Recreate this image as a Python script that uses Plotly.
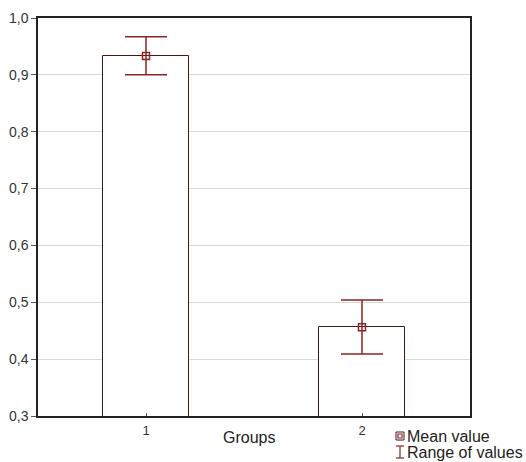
import plotly.graph_objects as go

# Data
groups = [1, 2]
group_labels = ["1", "2"]
mean_values = [0.933, 0.456]
max_values = [0.967, 0.504]
min_values = [0.900, 0.409]
y_ticks = [0.3, 0.4, 0.5, 0.6, 0.7, 0.8, 0.9, 1.0]

err_plus = [mx - m for mx, m in zip(max_values, mean_values)]
err_minus = [m - mn for mn, m in zip(min_values, mean_values)]

BAR_LINE = "#4a1515"
ERR = "#8b2525"
FONT = "Liberation Sans, Arial, sans-serif"

fig = go.Figure()
fig.add_trace(go.Bar(
    x=groups, y=mean_values, width=0.4,
    marker=dict(color="white", line=dict(color=BAR_LINE, width=1)),
    showlegend=False, hoverinfo="skip",
))
fig.add_trace(go.Scatter(
    x=groups, y=mean_values, mode="markers",
    marker=dict(symbol="square-open", size=7, color=ERR, line=dict(width=1.5, color=ERR)),
    error_y=dict(type="data", symmetric=False, array=err_plus, arrayminus=err_minus,
                 color=ERR, thickness=1.5, width=21),
    showlegend=False,
))

fig.update_layout(
    width=526, height=462,
    margin=dict(l=38, r=56, t=18, b=46),
    plot_bgcolor="white", paper_bgcolor="white",
    separators=",.",
    font=dict(family=FONT, size=13, color="#333333"),
    xaxis=dict(
        range=[0.5, 2.5], tickvals=groups, ticktext=group_labels,
        showgrid=False, zeroline=False, automargin=False,
        showline=True, linecolor="#222222", linewidth=1.5, mirror=True,
        ticks="inside", ticklen=3, tickcolor="#555555",
        ticklabelstandoff=2,
        tickfont=dict(size=13, color="#333333"),
    ),
    yaxis=dict(
        range=[0.3, 1.0], tickvals=y_ticks, tickformat=".1f",
        showgrid=True, gridcolor="#d8d8d8", gridwidth=1, zeroline=False, automargin=False,
        showline=True, linecolor="#222222", linewidth=1.5, mirror=True,
        ticks="outside", ticklen=5, tickcolor="#555555",
        tickfont=dict(size=14, color="#333333"),
    ),
    bargap=0,
)

def px_x(px):
    return (px - 38) / 432

def px_y(py):
    return (416 - py) / 398

# Axis title "Groups"
fig.add_annotation(text="Groups", xref="paper", yref="paper",
                   x=px_x(249), y=px_y(438), xanchor="center", yanchor="middle",
                   showarrow=False, font=dict(size=16, color="#222222", family=FONT))

# Custom legend
fig.add_annotation(text="Mean value", xref="paper", yref="paper",
                   x=px_x(405), y=px_y(436), xanchor="left", yanchor="middle",
                   showarrow=False, font=dict(size=16, color="#222222", family=FONT))
fig.add_annotation(text="Range of values", xref="paper", yref="paper",
                   x=px_x(405), y=px_y(453), xanchor="left", yanchor="middle",
                   showarrow=False, font=dict(size=16, color="#222222", family=FONT))

# legend square symbol
fig.add_shape(type="rect", xref="paper", yref="paper",
              x0=px_x(396), x1=px_x(404), y0=px_y(440), y1=px_y(432),
              line=dict(color=BAR_LINE, width=1), fillcolor="white")
fig.add_shape(type="rect", xref="paper", yref="paper",
              x0=px_x(398), x1=px_x(402), y0=px_y(438), y1=px_y(434),
              line=dict(color=ERR, width=1.2), fillcolor="white")
# legend I-bar symbol
fig.add_shape(type="line", xref="paper", yref="paper",
              x0=px_x(400), x1=px_x(400), y0=px_y(446), y1=px_y(458),
              line=dict(color=ERR, width=1.2))
fig.add_shape(type="line", xref="paper", yref="paper",
              x0=px_x(396), x1=px_x(404), y0=px_y(446), y1=px_y(446),
              line=dict(color=ERR, width=1.2))
fig.add_shape(type="line", xref="paper", yref="paper",
              x0=px_x(396), x1=px_x(404), y0=px_y(458), y1=px_y(458),
              line=dict(color=ERR, width=1.2))

fig.write_html("out.html", config={"displayModeBar": False},
               post_script="document.body.style.margin='0';")
